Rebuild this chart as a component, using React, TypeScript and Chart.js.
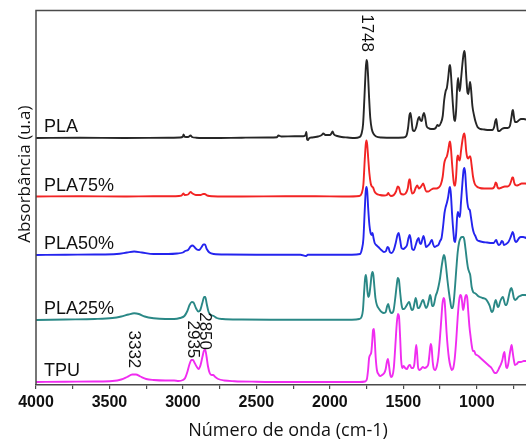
import { useEffect, useRef } from 'react';
import { Chart, registerables } from 'chart.js';

Chart.register(...registerables);

// FTIR spectra: [wavenumber (cm-1), absorbance above the trace's own baseline (a.u.)]
const plaSpectrum: [number, number][] = [
  [4000, 0], [3700, 0.3], [3400, 0], [3100, 0.3], [3020, 0.5], [3000, 1.5], [2996, 3.5], [2988, 1.2],
  [2965, 1], [2948, 2.5], [2938, 1], [2910, 0.3], [2800, 0], [2600, 0.3], [2420, 0.5], [2360, 0.8],
  [2350, 2.5], [2330, 1.5], [2240, 1.8], [2180, 1.8], [2166, 3], [2160, 6], [2155, -1.5], [2148, -2],
  [2140, 0], [2120, 0.5], [2080, 1.5], [2055, 3], [2045, 4.5], [2030, 3], [2000, 3], [1990, 4.5],
  [1982, 6.5], [1972, 3.5], [1950, 2], [1920, 1], [1880, 0.5], [1830, 0], [1800, 0.8], [1785, 4],
  [1774, 14], [1765, 40], [1757, 66], [1751, 78], [1746, 76], [1740, 62], [1733, 40], [1725, 20],
  [1715, 9], [1702, 4], [1685, 1.5], [1650, 0.5], [1560, 0.3], [1500, 0.5], [1480, 2], [1468, 10],
  [1458, 23], [1452, 25], [1446, 20], [1436, 8], [1426, 7], [1412, 11], [1400, 19], [1392, 21],
  [1385, 18], [1375, 17], [1366, 23], [1360, 25], [1352, 21], [1342, 12], [1330, 10], [1312, 9],
  [1295, 9], [1280, 10], [1268, 13], [1258, 12], [1245, 15], [1232, 22], [1222, 38], [1212, 47],
  [1204, 50], [1195, 60], [1186, 72], [1182, 73], [1177, 66], [1168, 45], [1160, 28], [1153, 18],
  [1147, 17], [1140, 30], [1134, 50], [1128, 60], [1122, 52], [1116, 47], [1108, 58], [1098, 74],
  [1090, 84], [1085, 87], [1080, 83], [1072, 62], [1064, 46], [1058, 44], [1052, 50], [1046, 56],
  [1040, 50], [1030, 32], [1018, 22], [1008, 16], [995, 11], [975, 9], [950, 8.5], [920, 8],
  [895, 8], [882, 11], [874, 17], [868, 19], [862, 13], [855, 7], [845, 7], [830, 9], [810, 10],
  [790, 10], [775, 12], [765, 20], [758, 27], [754, 28], [748, 22], [740, 16], [728, 16], [712, 18],
  [700, 19], [680, 19], [655, 18], [630, 17], [600, 16], [570, 15],
];

const pla75Spectrum: [number, number][] = [
  [4000, 0], [3700, 0.3], [3400, 0], [3200, 0.3], [3050, 0.3], [3010, 0.8], [2997, 3], [2988, 1.5],
  [2965, 2], [2948, 4.5], [2935, 3], [2912, 1.5], [2880, 1.5], [2862, 2.5], [2852, 2.5], [2835, 1],
  [2800, 0.3], [2600, 0], [2300, 0.3], [2100, 0.3], [1900, 0], [1800, 0.5], [1784, 3], [1772, 12],
  [1763, 36], [1756, 52], [1751, 56], [1746, 52], [1739, 38], [1731, 23], [1722, 13], [1714, 10],
  [1706, 9], [1696, 5], [1685, 3], [1660, 1.5], [1630, 1], [1612, 1.5], [1603, 3.5], [1596, 2],
  [1585, 0.5], [1565, 1.5], [1550, 5], [1538, 10], [1530, 9], [1518, 3], [1500, 2], [1485, 3],
  [1470, 8], [1460, 17], [1455, 17], [1448, 8], [1440, 3], [1428, 4], [1415, 9], [1405, 11],
  [1395, 8], [1385, 9], [1375, 11], [1365, 13], [1357, 10], [1345, 5], [1330, 5], [1310, 7],
  [1295, 8], [1275, 8], [1260, 9], [1245, 12], [1232, 20], [1222, 33], [1212, 38], [1204, 40],
  [1195, 46], [1186, 54], [1182, 55], [1176, 48], [1168, 32], [1160, 18], [1153, 11], [1147, 11],
  [1140, 22], [1134, 38], [1128, 41], [1122, 37], [1116, 36], [1108, 45], [1098, 56], [1090, 62],
  [1085, 63], [1080, 59], [1072, 45], [1065, 39], [1058, 38], [1050, 40], [1044, 40], [1036, 32],
  [1026, 20], [1015, 13], [1000, 10], [980, 8.5], [950, 8], [920, 8], [895, 8], [880, 10],
  [872, 14], [866, 13], [858, 9], [848, 8], [830, 9], [810, 10], [790, 10], [775, 12], [765, 16],
  [758, 19], [753, 19], [746, 14], [738, 11.5], [725, 11], [710, 12], [695, 13], [670, 13],
  [640, 12], [600, 12], [570, 12],
];

const pla50Spectrum: [number, number][] = [
  [4000, 0], [3800, 0.3], [3600, 0.5], [3450, 1], [3380, 2.5], [3332, 3.5], [3280, 2.5], [3200, 1],
  [3100, 1], [3040, 1.5], [3000, 2.5], [2985, 4], [2965, 5], [2948, 8.5], [2935, 9.5], [2922, 8],
  [2905, 5.5], [2890, 5], [2875, 7.5], [2860, 10.5], [2850, 10.5], [2838, 6], [2820, 2.5], [2790, 1],
  [2700, 0.5], [2500, 0.3], [2300, 0.3], [2200, 0.3], [2162, -1], [2150, 0.3], [2000, 0.3],
  [1850, 0.3], [1795, 1], [1782, 6], [1772, 16], [1763, 44], [1756, 64], [1751, 68], [1746, 64],
  [1739, 46], [1731, 30], [1723, 22], [1716, 20], [1710, 22], [1703, 17], [1695, 12], [1685, 10],
  [1670, 8], [1650, 5], [1632, 3], [1618, 4], [1608, 8], [1600, 7], [1592, 3], [1580, 2], [1565, 5],
  [1552, 12], [1540, 20], [1532, 22], [1522, 15], [1512, 7], [1500, 6], [1490, 7], [1475, 10],
  [1465, 17], [1457, 20], [1450, 16], [1440, 6], [1428, 5], [1418, 9], [1405, 15], [1396, 17],
  [1388, 12], [1380, 11], [1372, 15], [1363, 19], [1355, 15], [1346, 8], [1335, 9], [1322, 11],
  [1312, 14], [1305, 15], [1298, 11], [1288, 8], [1275, 9], [1262, 10], [1250, 14], [1240, 17],
  [1230, 28], [1220, 42], [1212, 48], [1204, 52], [1195, 58], [1186, 67], [1182, 68], [1176, 60],
  [1168, 40], [1160, 24], [1153, 14], [1147, 13], [1140, 23], [1134, 38], [1128, 43], [1121, 39],
  [1115, 38], [1108, 52], [1098, 72], [1090, 85], [1085, 87], [1079, 82], [1072, 66], [1064, 52],
  [1055, 46], [1048, 45], [1040, 38], [1030, 28], [1020, 22], [1010, 19], [998, 15], [985, 14],
  [960, 13], [930, 12.5], [900, 12], [885, 12], [875, 14], [868, 15], [860, 12], [850, 10],
  [840, 11], [830, 14], [822, 13], [815, 10], [800, 11], [785, 13], [772, 17], [762, 21], [756, 23],
  [750, 21], [742, 15], [735, 13], [725, 14], [712, 17], [700, 18], [685, 18], [660, 17], [630, 17],
  [600, 17], [570, 16],
];

const pla25Spectrum: [number, number][] = [
  [4000, 0], [3800, 0.5], [3600, 1], [3480, 2], [3420, 3.5], [3370, 5.5], [3332, 6.7], [3300, 6],
  [3260, 3.5], [3200, 1.8], [3120, 1], [3060, 1], [3020, 2], [2990, 4], [2970, 9], [2955, 15],
  [2940, 18], [2928, 17.5], [2912, 12], [2895, 8.5], [2882, 10], [2868, 17], [2855, 23], [2848, 23],
  [2838, 16], [2825, 8], [2810, 5], [2790, 4], [2770, 2], [2730, 1], [2600, 0.5], [2400, 0.3],
  [2200, 0.3], [2000, 0.3], [1850, 0.3], [1800, 1], [1785, 3], [1775, 10], [1767, 28], [1760, 42],
  [1755, 45], [1750, 40], [1744, 28], [1738, 23], [1732, 25], [1724, 34], [1716, 45], [1710, 48],
  [1704, 45], [1697, 33], [1690, 22], [1680, 15], [1665, 11], [1648, 8], [1632, 7], [1620, 8],
  [1610, 14], [1603, 16], [1596, 12], [1588, 8], [1578, 7], [1566, 10], [1555, 22], [1545, 35],
  [1538, 42], [1530, 40], [1522, 28], [1513, 16], [1505, 11], [1495, 11], [1480, 14], [1468, 17],
  [1460, 18], [1452, 14], [1443, 10], [1433, 11], [1424, 17], [1416, 22], [1410, 19], [1402, 12],
  [1394, 12], [1383, 15], [1372, 19], [1365, 20], [1356, 16], [1346, 12], [1336, 14], [1326, 20],
  [1318, 25], [1312, 22], [1304, 14], [1296, 14], [1288, 18], [1280, 24], [1270, 28], [1260, 34],
  [1250, 42], [1240, 53], [1230, 62], [1224, 65], [1218, 63], [1210, 54], [1200, 40], [1190, 28],
  [1180, 18], [1172, 12], [1164, 12], [1156, 20], [1148, 34], [1140, 50], [1130, 68], [1120, 78],
  [1110, 82], [1100, 83], [1092, 83], [1085, 80], [1076, 70], [1068, 60], [1060, 52], [1052, 48],
  [1045, 45], [1035, 33], [1025, 28], [1015, 27], [1005, 26], [992, 24], [978, 23], [960, 22],
  [940, 21], [925, 18], [912, 14], [902, 9], [895, 8], [888, 10], [880, 16], [872, 20], [866, 18],
  [858, 13], [850, 14], [840, 19], [830, 22], [822, 23], [814, 19], [806, 15], [798, 15], [788, 20],
  [778, 27], [770, 31], [764, 32], [756, 28], [748, 22], [740, 20], [730, 21], [718, 23], [705, 24],
  [690, 25], [670, 25], [640, 24], [600, 24], [570, 24],
];

const tpuSpectrum: [number, number][] = [
  [4000, 0], [3800, 0.3], [3600, 0.5], [3480, 1], [3420, 2.5], [3380, 5], [3345, 7.5], [3320, 7.5],
  [3290, 5.5], [3250, 3], [3200, 2], [3120, 1.5], [3060, 1.5], [3030, 1], [3000, 2], [2985, 4],
  [2970, 10], [2955, 18], [2942, 22], [2932, 22], [2920, 19], [2905, 15], [2893, 13], [2880, 17],
  [2866, 26], [2855, 32], [2848, 32], [2840, 26], [2830, 16], [2818, 9], [2805, 7], [2795, 7],
  [2780, 5], [2760, 3], [2720, 1.5], [2650, 0.8], [2500, 0.3], [2300, 0], [2000, 0], [1800, 0],
  [1760, 0.5], [1748, 3], [1740, 12], [1733, 24], [1726, 27], [1718, 30], [1712, 40], [1706, 52],
  [1700, 53], [1694, 40], [1688, 24], [1680, 12], [1670, 8], [1658, 6], [1645, 7], [1630, 9],
  [1620, 13], [1612, 20], [1605, 23], [1598, 17], [1590, 8], [1583, 5], [1575, 6], [1565, 14],
  [1555, 35], [1545, 58], [1537, 68], [1530, 66], [1522, 45], [1515, 22], [1508, 14], [1498, 16],
  [1488, 14], [1475, 13], [1465, 16], [1455, 17], [1445, 14], [1435, 14], [1425, 18], [1418, 30],
  [1412, 37], [1406, 28], [1400, 15], [1392, 12], [1380, 13], [1368, 15], [1355, 14], [1342, 15],
  [1330, 18], [1322, 28], [1314, 38], [1308, 35], [1300, 20], [1292, 13], [1284, 12], [1272, 16],
  [1262, 25], [1252, 42], [1242, 62], [1234, 78], [1226, 84], [1220, 82], [1214, 70], [1206, 50],
  [1198, 35], [1190, 24], [1180, 16], [1170, 12], [1160, 14], [1150, 24], [1140, 42], [1130, 65],
  [1120, 82], [1112, 87], [1106, 86], [1100, 80], [1094, 72], [1088, 75], [1080, 84], [1072, 87],
  [1066, 85], [1058, 70], [1050, 55], [1042, 45], [1034, 36], [1026, 31], [1018, 31], [1010, 28],
  [1000, 27], [990, 26], [975, 24], [960, 22], [945, 20], [930, 18], [915, 16], [900, 14], [888, 11],
  [878, 9], [868, 9], [858, 11], [848, 14], [838, 17], [826, 22], [818, 28], [812, 30], [806, 22],
  [800, 15], [794, 14], [786, 18], [778, 26], [770, 33], [763, 37], [756, 30], [748, 22], [740, 17],
  [728, 18], [715, 20], [700, 20], [680, 21], [650, 21], [620, 20], [600, 20], [570, 20],
];

// Traces are stacked vertically; each one sits on its own offset.
const seriesNames = ['PLA', 'PLA75%', 'PLA50%', 'PLA25%', 'TPU'];
const seriesSpectra = [plaSpectrum, pla75Spectrum, pla50Spectrum, pla25Spectrum, tpuSpectrum];
const seriesOffsets = [247, 188.5, 130, 65, 3];
const seriesColors = ['#262626', '#f22424', '#2424ee', '#2a8886', '#f02cf0'];

// Wavenumber axis ticks (minor every 250, labels every 500)
const xTicks = [4000, 3750, 3500, 3250, 3000, 2750, 2500, 2250, 2000, 1750, 1500, 1250, 1000, 750];

// Band assignments written along the peaks
const peakLabels = ['1748', '3332', '2935', '2850'];
const peakWavenumbers = [1748, 3332, 2935, 2850];
const peakLabelEnds = [333, 16.7, 26.7, 35];

const frameColor = '#4a4a4a';
const textColor = '#111';

const overlayPlugin = {
  id: 'ftirOverlay',
  afterDraw(chart: any) {
    const { ctx, chartArea: a, scales } = chart;
    const xs = scales.x;
    const ys = scales.y;
    ctx.save();

    // left and top frame lines
    ctx.strokeStyle = frameColor;
    ctx.lineWidth = 1.5;
    ctx.beginPath();
    ctx.moveTo(a.left, a.bottom);
    ctx.lineTo(a.left, a.top);
    ctx.lineTo(a.right, a.top);
    ctx.stroke();

    // sample names above each trace
    ctx.fillStyle = textColor;
    ctx.font = '18px "Liberation Sans", Arial, sans-serif';
    ctx.textAlign = 'left';
    ctx.textBaseline = 'alphabetic';
    seriesNames.forEach((name, i) => {
      ctx.fillText(name, a.left + 8, ys.getPixelForValue(seriesOffsets[i]) - 6);
    });

    // vertical band labels
    ctx.font = '17px "Liberation Sans", Arial, sans-serif';
    peakLabels.forEach((label, i) => {
      ctx.save();
      ctx.translate(xs.getPixelForValue(peakWavenumbers[i]), ys.getPixelForValue(peakLabelEnds[i]));
      ctx.rotate(Math.PI / 2);
      ctx.textAlign = 'right';
      ctx.textBaseline = 'middle';
      ctx.fillText(label, 0, 0);
      ctx.restore();
    });

    // y-axis title
    ctx.font = '17px "Open Sans", sans-serif';
    ctx.translate(a.left - 11, a.top + (a.bottom - a.top) * 0.437);
    ctx.rotate(-Math.PI / 2);
    ctx.textAlign = 'center';
    ctx.textBaseline = 'middle';
    ctx.fillText('Absorbância (u.a)', 0, 0);

    ctx.restore();
  },
};

export default function App() {
  const canvasRef = useRef<HTMLCanvasElement>(null);

  useEffect(() => {
    const canvas = canvasRef.current;
    if (!canvas) return;

    const datasets = seriesSpectra.map((spectrum, i) => ({
      label: seriesNames[i],
      data: spectrum.map(([wn, abs]) => ({ x: wn, y: abs + seriesOffsets[i] })),
      borderColor: seriesColors[i],
      backgroundColor: seriesColors[i],
      borderWidth: 1.9,
      pointRadius: 0,
      tension: 0.4,
      cubicInterpolationMode: 'monotone' as const,
      fill: false,
    }));

    const chart = new Chart(canvas, {
      type: 'line',
      data: { datasets },
      options: {
        animation: false,
        responsive: false,
        devicePixelRatio: 1,
        parsing: false,
        normalized: true,
        layout: { padding: { left: 36, top: 10.5, right: 0, bottom: 0 } },
        plugins: {
          legend: { display: false },
          tooltip: { enabled: false },
        },
        scales: {
          x: {
            type: 'linear',
            reverse: true,
            min: 570,
            max: 4000,
            afterBuildTicks: (scale: any) => {
              scale.ticks = xTicks.map((v) => ({ value: v }));
            },
            afterFit: (scale: any) => {
              scale.height = 57;
            },
            border: { display: true, color: frameColor, width: 1.5 },
            grid: {
              drawOnChartArea: false,
              drawTicks: true,
              tickLength: 4,
              color: frameColor,
              lineWidth: 1.2,
            },
            ticks: {
              autoSkip: false,
              maxRotation: 0,
              padding: 4,
              color: textColor,
              font: { family: '"Liberation Sans", Arial, sans-serif', size: 16, weight: 'bold' },
              callback: (v: any) => (Number(v) % 500 === 0 ? String(v) : ''),
            },
            title: {
              display: true,
              text: 'Número de onda (cm-1)',
              color: textColor,
              font: { family: '"Open Sans", sans-serif', size: 18 },
              padding: { top: 0, bottom: 0 },
            },
          },
          y: {
            display: false,
            min: 0,
            max: 374.5,
          },
        },
      },
      plugins: [overlayPlugin],
    });

    return () => chart.destroy();
  }, []);

  return (
    <div
      style={{
        position: 'fixed',
        left: 0,
        top: 0,
        width: 526,
        height: 442,
        overflow: 'hidden',
        background: '#fff',
      }}
    >
      <canvas ref={canvasRef} width={540} height={442} style={{ display: 'block', width: 540, height: 442 }} />
    </div>
  );
}
